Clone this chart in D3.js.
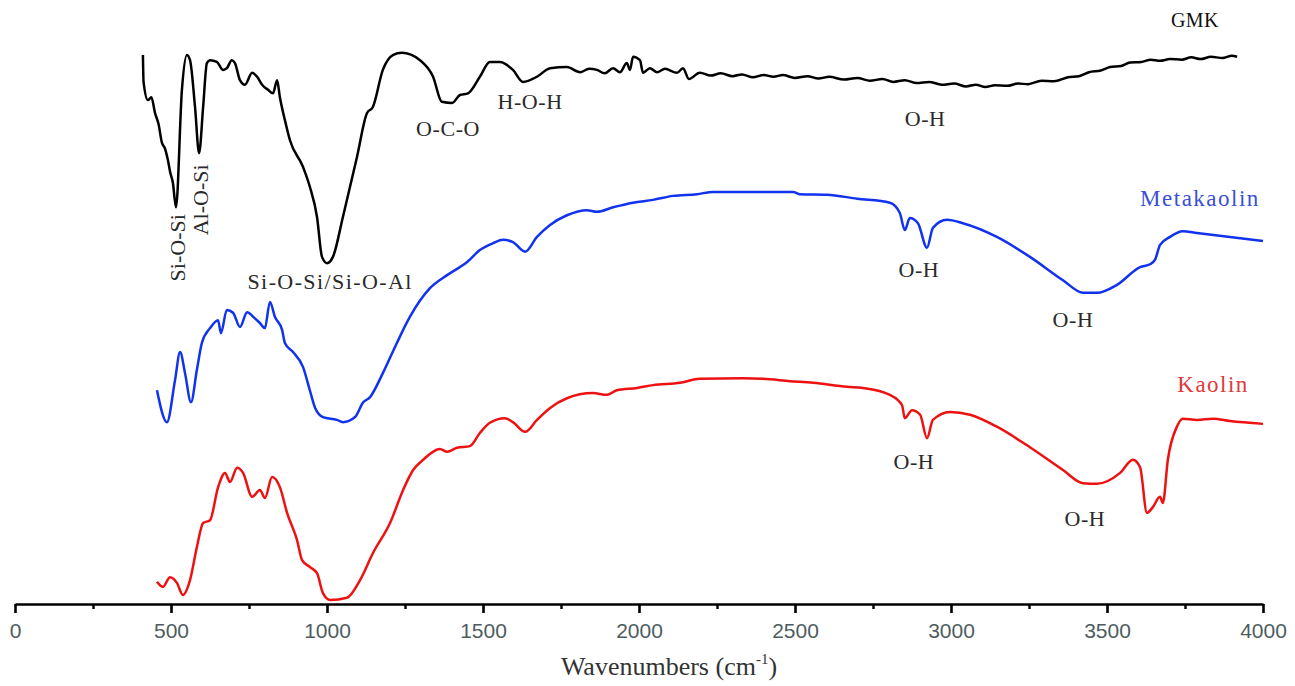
<!DOCTYPE html>
<html>
<head>
<meta charset="utf-8">
<script src="https://cdn.jsdelivr.net/npm/d3@7"></script>
<style>
  body { margin: 0; background: #fff; }
  svg { display: block; }
</style>
</head>
<body>
<svg id="chart" width="1295" height="686"></svg>
<script>
// x axis ticks (cm-1)
var xTicks = [0, 500, 1000, 1500, 2000, 2500, 3000, 3500, 4000];
var xMinorTicks = [250, 750, 1250, 1750, 2250, 2750, 3250, 3750];

// GMK spectrum (wavenumber, offset transmittance, a.u.)
var gmkWave = [410, 412, 426, 437, 449, 460, 471, 480, 490, 498, 506, 516, 535, 551, 561, 577, 590, 603, 615, 625, 647, 667, 679, 695, 705, 721, 737, 760, 776, 792, 811, 827, 840, 849, 865, 881, 923, 945, 968, 984, 1000, 1019, 1051, 1096, 1128, 1147, 1179, 1211, 1240, 1298, 1340, 1368, 1401, 1426, 1452, 1490, 1522, 1554, 1596, 1628, 1673, 1715, 1769, 1811, 1840, 1865, 1890, 1917, 1939, 1961, 1971, 1981, 2003, 2013, 2035, 2058, 2083, 2122, 2141, 2160, 2195, 2230, 2262, 2300, 2330, 2365, 2400, 2431, 2461, 2500, 2540, 2575, 2610, 2657, 2700, 2740, 2780, 2815, 2852, 2890, 2930, 2970, 3010, 3048, 3080, 3110, 3141, 3180, 3215, 3247, 3290, 3330, 3375, 3410, 3442, 3480, 3510, 3545, 3574, 3610, 3640, 3670, 3702, 3740, 3770, 3800, 3833, 3870, 3900, 3917];
var gmkT = [96.3, 91.6, 88.4, 88.9, 86.1, 84.2, 80.9, 80.0, 77.9, 75.6, 73.9, 69.6, 90.2, 96.3, 95.4, 87.2, 79.1, 87.2, 94.9, 95.4, 95.1, 93.7, 94.0, 95.4, 94.9, 91.9, 91.1, 93.2, 92.5, 91.1, 90.2, 89.6, 91.9, 88.9, 84.9, 81.4, 76.7, 73.2, 67.9, 60.9, 59.8, 60.9, 67.9, 78.4, 86.1, 87.2, 93.7, 96.3, 96.7, 95.4, 92.5, 88.1, 87.9, 89.3, 89.6, 92.5, 95.1, 95.1, 93.7, 91.6, 92.5, 94.0, 94.2, 93.3, 93.9, 93.7, 93.1, 94.0, 93.3, 94.9, 93.7, 96.0, 95.4, 93.2, 94.0, 93.3, 93.9, 93.2, 94.0, 92.1, 93.2, 92.7, 93.1, 92.6, 92.9, 92.4, 92.8, 92.5, 92.8, 92.3, 92.6, 92.2, 92.5, 92.0, 92.3, 91.8, 92.1, 91.6, 91.9, 91.4, 91.6, 91.1, 91.3, 90.8, 91.1, 90.7, 91.0, 90.9, 91.3, 91.2, 91.8, 91.7, 92.4, 92.6, 93.3, 93.6, 94.2, 94.4, 95.0, 95.1, 95.5, 95.3, 95.6, 95.5, 95.9, 95.6, 96.0, 95.8, 96.2, 96.0];

// Metakaolin spectrum
var metaWave = [455, 487, 513, 529, 545, 564, 583, 599, 625, 651, 660, 679, 699, 721, 744, 763, 785, 801, 817, 833, 856, 865, 891, 923, 945, 962, 987, 1032, 1051, 1090, 1115, 1138, 1179, 1224, 1266, 1330, 1385, 1449, 1490, 1532, 1564, 1596, 1635, 1673, 1715, 1769, 1833, 1865, 1917, 1981, 2045, 2109, 2186, 2237, 2494, 2516, 2602, 2699, 2804, 2836, 2852, 2868, 2894, 2923, 2942, 2987, 3038, 3147, 3253, 3359, 3423, 3468, 3532, 3606, 3638, 3654, 3670, 3702, 3743, 3788, 3894, 4000];
var metaT = [37.5, 31.9, 39.3, 44.2, 40.5, 35.4, 41.1, 45.8, 48.4, 49.8, 47.5, 51.6, 51.1, 48.6, 51.2, 50.4, 49.3, 48.4, 53.0, 50.4, 48.1, 45.8, 44.2, 41.6, 37.5, 34.4, 32.8, 32.3, 31.9, 32.8, 35.3, 36.3, 40.5, 45.8, 50.4, 55.4, 57.7, 60.0, 62.1, 63.3, 63.9, 63.5, 61.8, 64.4, 66.5, 68.2, 69.1, 68.8, 69.6, 70.4, 70.9, 71.6, 71.9, 72.3, 72.3, 71.9, 71.8, 71.1, 70.4, 68.6, 65.6, 67.7, 66.8, 62.5, 66.0, 67.4, 66.8, 64.4, 60.9, 56.8, 54.6, 54.6, 56.0, 59.1, 59.6, 60.4, 63.0, 64.4, 65.4, 65.1, 64.4, 63.7];

// Kaolin spectrum
var kaolinWave = [455, 474, 497, 519, 538, 561, 583, 603, 625, 651, 673, 689, 712, 731, 760, 785, 801, 824, 849, 872, 904, 920, 945, 968, 987, 1010, 1064, 1106, 1147, 1202, 1244, 1276, 1308, 1362, 1385, 1417, 1458, 1490, 1522, 1570, 1596, 1635, 1673, 1715, 1769, 1852, 1897, 1929, 1994, 2045, 2131, 2195, 2333, 2397, 2484, 2558, 2667, 2718, 2804, 2843, 2852, 2875, 2901, 2923, 2942, 2997, 3061, 3147, 3253, 3359, 3423, 3468, 3542, 3583, 3606, 3628, 3647, 3670, 3679, 3695, 3724, 3743, 3788, 3840, 3894, 4000];
var kaolinT = [3.9, 3.0, 4.7, 3.7, 1.6, 4.2, 10.0, 14.2, 14.7, 20.5, 23.0, 21.4, 23.9, 23.0, 18.8, 20.0, 18.6, 22.3, 20.5, 16.0, 11.2, 7.7, 6.5, 5.4, 1.9, 0.7, 1.1, 4.2, 8.9, 14.2, 20.0, 23.5, 25.3, 27.2, 26.7, 27.4, 27.7, 30.0, 31.8, 32.6, 31.9, 30.2, 32.3, 34.4, 36.1, 37.0, 36.7, 37.5, 37.9, 38.4, 38.8, 39.5, 39.6, 39.5, 39.1, 38.8, 38.1, 37.9, 36.7, 34.9, 32.6, 34.0, 33.2, 29.1, 32.3, 33.7, 33.2, 31.1, 27.5, 23.5, 21.2, 21.1, 23.0, 25.3, 24.0, 16.0, 17.0, 18.8, 17.7, 25.3, 31.1, 32.5, 32.3, 32.5, 32.1, 31.6];

// series names
var seriesNames = ["GMK", "Metakaolin", "Kaolin"];

// band assignments: text, wavenumber, value
var bandText = ["O-C-O", "H-O-H", "O-H", "Si-O-Si/Si-O-Al", "O-H", "O-H", "O-H", "O-H"];
var bandWave = [1388, 1651, 2917, 1010, 2897, 3391, 2881, 3429];
var bandT = [82.1, 86.8, 83.9, 55.3, 57.4, 48.6, 23.7, 13.7];

// vertical band labels
var vBandText = ["Si-O-Si", "Al-O-Si"];
var vBandWave = [519, 593];
var vBandT = [62.5, 70.9];

var svg = d3.select("#chart");

var x = d3.scaleLinear().domain([0, 4000]).range([15, 1263]);
var y = d3.scaleLinear().domain([0, 100]).range([604, 34]);

var series = [
  { name: seriesNames[0], wave: gmkWave, t: gmkT, color: "#000000", labelColor: "#111111", labelWave: 3782, labelT: 101.2, size: 20, spacing: 0.5 },
  { name: seriesNames[1], wave: metaWave, t: metaT, color: "#1133ee", labelColor: "#3a4fd8", labelWave: 3798, labelT: 69.8, size: 23, spacing: 1.5 },
  { name: seriesNames[2], wave: kaolinWave, t: kaolinT, color: "#ee1111", labelColor: "#e03a3a", labelWave: 3840, labelT: 37.2, size: 23, spacing: 1.5 }
];

var line = d3.line()
  .x(function (d) { return x(d[0]); })
  .y(function (d) { return y(d[1]); })
  .curve(d3.curveMonotoneX);

// spectra
series.forEach(function (s) {
  svg.append("path")
    .datum(d3.zip(s.wave, s.t))
    .attr("fill", "none")
    .attr("stroke", s.color)
    .attr("stroke-width", 2.5)
    .attr("stroke-linejoin", "round")
    .attr("d", line);

  svg.append("text")
    .attr("x", x(s.labelWave))
    .attr("y", y(s.labelT))
    .attr("text-anchor", "middle")
    .attr("font-family", "'Liberation Serif', 'Times New Roman', serif")
    .attr("font-size", s.size)
    .attr("letter-spacing", s.spacing)
    .attr("fill", s.labelColor)
    .text(s.name);
});

// band labels
bandText.forEach(function (t, i) {
  svg.append("text")
    .attr("x", x(bandWave[i]))
    .attr("y", y(bandT[i]))
    .attr("text-anchor", "middle")
    .attr("font-family", "'Liberation Serif', 'Times New Roman', serif")
    .attr("font-size", 22)
    .attr("letter-spacing", t.length > 6 ? 1.4 : 0.6)
    .attr("fill", "#2a2a2a")
    .text(t);
});

vBandText.forEach(function (t, i) {
  svg.append("text")
    .attr("transform", "translate(" + x(vBandWave[i]) + "," + y(vBandT[i]) + ") rotate(-90)")
    .attr("text-anchor", "middle")
    .attr("dy", "0.35em")
    .attr("font-family", "'Liberation Serif', 'Times New Roman', serif")
    .attr("font-size", 22)
    .attr("fill", "#2a2a2a")
    .text(t);
});

// x axis
var xAxis = d3.axisBottom(x)
  .tickValues(xTicks)
  .tickFormat(d3.format("d"))
  .tickSize(9)
  .tickSizeOuter(0);

var minorAxis = d3.axisBottom(x)
  .tickValues(xMinorTicks)
  .tickFormat("")
  .tickSize(5)
  .tickSizeOuter(0);

var gx = svg.append("g")
  .attr("transform", "translate(0,604)")
  .call(xAxis);

gx.select(".domain").attr("stroke", "#000").attr("stroke-width", 2.6);
gx.selectAll(".tick line").attr("stroke", "#000").attr("stroke-width", 2.6);
gx.selectAll(".tick text")
  .attr("y", 19)
  .attr("font-family", "'Liberation Sans', Arial, sans-serif")
  .attr("font-size", 21)
  .attr("fill", "#4e5c60");

var gm = svg.append("g")
  .attr("transform", "translate(0,604)")
  .call(minorAxis);
gm.select(".domain").remove();
gm.selectAll(".tick line").attr("stroke", "#000").attr("stroke-width", 2.4);

// axis title
var title = svg.append("text")
  .attr("x", 669)
  .attr("y", 675)
  .attr("text-anchor", "middle")
  .attr("font-family", "'Liberation Serif', 'Times New Roman', serif")
  .attr("font-size", 26)
  .attr("fill", "#333");
title.append("tspan").text("Wavenumbers (cm");
title.append("tspan").attr("font-size", 15).attr("dy", -11).text("-1");
title.append("tspan").attr("dy", 11).text(")");
</script>
</body>
</html>
